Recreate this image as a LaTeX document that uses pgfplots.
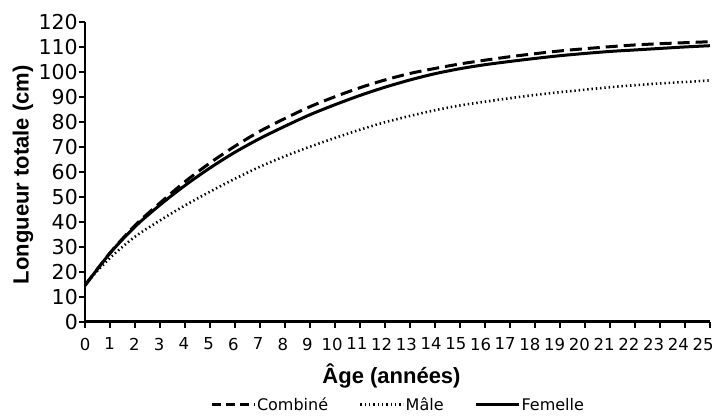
\documentclass[border=0pt]{standalone}
\usepackage{fontspec}
\setmainfont{DejaVu Sans}
\newfontfamily\labfont{Liberation Sans}
\usepackage{pgfplots}
\pgfplotsset{compat=1.18}
\begin{document}
\begin{tikzpicture}
\begin{axis}[
  at={(85pt,97.3pt)}, anchor=south west,
  scale only axis, width=625pt, height=300pt,
  xmin=0, xmax=25, ymin=0, ymax=120,
  axis lines=left,
  axis line style={line width=2.5pt, black, -},
  xtick={0,1,...,25}, ytick={0,10,...,120},
  tick align=outside, major tick length=6pt,
  tick style={line width=2pt, black},
  tick label style={/pgf/number format/assume math mode=true},
  xticklabel style={font=\fontsize{16.5}{19}\selectfont, yshift=-9pt, inner sep=1pt, xshift={-0.28*\ticknum pt}},
  yticklabel style={font=\fontsize{20.5}{24}\selectfont, inner sep=1pt},
  xlabel={Âge (années)}, ylabel={Longueur totale (cm)},
  label style={font=\labfont\bfseries\fontsize{22}{26}\selectfont},
  xlabel style={at={(axis description cs:0.5,0)}, anchor=center, yshift=-54pt, xshift=-6pt},
  ylabel style={at={(axis description cs:0,0.5)}, anchor=center, yshift=62pt, xshift=-3pt},
  legend style={at={(axis description cs:0.5,0)}, anchor=center, yshift=-83pt,
    draw=none, fill=none, legend columns=3, font=\fontsize{16}{19}\selectfont,
    /tikz/every even column/.append style={column sep=30pt},
    /tikz/every node/.append style={inner sep=1pt}},
  legend image code/.code={\draw[#1] (0pt,0pt) -- (43pt,0pt);},
]
\addplot[forget plot, black, line width=3pt, dash pattern=on 12pt off 6pt, smooth] coordinates {
(0,14.5) (1,27.5) (2,38.5) (3,47.5) (4,56) (5,63.5) (6,70.2) (7,76.2) (8,81.3) (9,86) (10,90) (11,93.6) (12,96.7) (13,99.3) (14,101.3) (15,103.1) (16,104.6) (17,106) (18,107.2) (19,108.3) (20,109.2) (21,110) (22,110.7) (23,111.2) (24,111.6) (25,112)};
\addplot[forget plot, black, line width=2.6pt, dash pattern=on 1.4pt off 2.9pt, smooth] coordinates {
(0,15) (1,25.5) (2,34) (3,40.5) (4,46.5) (5,52) (6,57.2) (7,62) (8,66.2) (9,70) (10,73.5) (11,76.8) (12,79.8) (13,82.3) (14,84.6) (15,86.5) (16,88) (17,89.4) (18,90.7) (19,91.8) (20,92.8) (21,93.8) (22,94.6) (23,95.3) (24,95.9) (25,96.5)};
\addplot[forget plot, black, line width=3pt, smooth] coordinates {
(0,14.5) (1,27.4) (2,38) (3,46.7) (4,54.5) (5,61.5) (6,67.8) (7,73.3) (8,78.2) (9,82.8) (10,86.8) (11,90.5) (12,93.8) (13,96.7) (14,99.2) (15,101.2) (16,102.8) (17,104.1) (18,105.3) (19,106.4) (20,107.3) (21,108.1) (22,108.7) (23,109.3) (24,109.9) (25,110.4)};
\addlegendimage{black, line width=3pt, dash pattern=on 9pt off 5pt}
\addlegendentry{Combiné}
\addlegendimage{black, line width=2.6pt, dash pattern=on 1.4pt off 2.9pt}
\addlegendentry{Mâle}
\addlegendimage{black, line width=3pt}
\addlegendentry{Femelle}
\end{axis}
\pgfresetboundingbox
\path[use as bounding box] (0,0) rectangle (715pt,419pt);
\end{tikzpicture}
\end{document}
